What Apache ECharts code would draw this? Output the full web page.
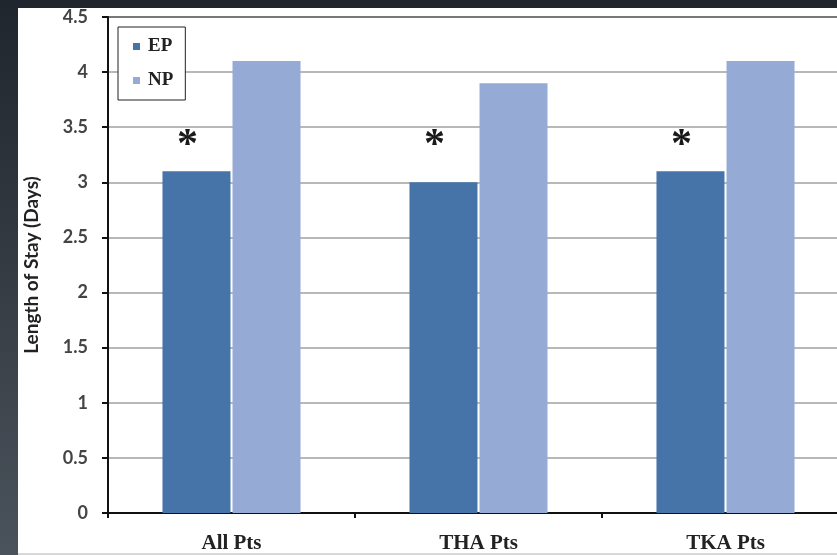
<!DOCTYPE html>
<html>
<head>
<meta charset="utf-8">
<script src="https://cdn.jsdelivr.net/npm/echarts@6/dist/echarts.min.js"></script>
<style>
html,body{margin:0;padding:0;background:#2a3038;overflow:hidden;width:837px;height:555px;}
#chart{width:850px;height:555px;}
</style>
</head>
<body>
<div id="chart"></div>
<script>
const categories = ['All Pts', 'THA Pts', 'TKA Pts'];
const seriesNames = ['EP', 'NP'];
const epValues = [3.1, 3.0, 3.1];
const npValues = [4.1, 3.9, 4.1];
const sigLevels = [3.42, 3.42, 3.42];
const yAxisTitle = 'Length of Stay (Days)';
const sigMark = '*';

const chart = echarts.init(document.getElementById('chart'));
const gridColors = ['#a0a0a0','#a0a0a0','#a0a0a0','#a0a0a0','#a0a0a0','#a0a0a0','#a0a0a0','#a0a0a0','#a0a0a0','#4a4a4a'];
chart.setOption({
  animation: false,
  backgroundColor: {
    type: 'linear', x: 0, y: 0, x2: 0, y2: 1,
    colorStops: [{offset: 0, color: '#1f262d'}, {offset: 1, color: '#4a525b'}]
  },
  graphic: [
    {type: 'rect', left: 18, top: 8, z: -10, shape: {width: 832, height: 545}, style: {fill: '#ffffff'}},
    {type: 'rect', left: 18, top: 553, z: -10, shape: {width: 832, height: 2}, style: {fill: '#d8d8d8'}}
  ],
  grid: {left: 108, top: 17, right: 1, bottom: 42, containLabel: false},
  legend: {
    data: seriesNames,
    orient: 'vertical',
    left: 118, top: 27,
    backgroundColor: '#ffffff',
    borderColor: '#222',
    borderWidth: 1,
    padding: [10, 12, 10, 15],
    itemWidth: 7, itemHeight: 7,
    itemGap: 15,
    icon: 'rect',
    textStyle: {fontFamily: 'Liberation Serif', fontWeight: 'bold', fontSize: 19, color: '#222', padding: [0,0,0,3]}
  },
  xAxis: {
    type: 'category',
    data: categories,
    axisLine: {lineStyle: {color: '#111', width: 2}},
    axisTick: {show: true, length: 5, lineStyle: {color: '#111', width: 2}},
    axisLabel: {fontFamily: 'Liberation Serif', fontWeight: 'bold', fontSize: 21, color: '#222', margin: 20}
  },
  yAxis: {
    type: 'value',
    min: 0, max: 4.5, interval: 0.5,
    name: yAxisTitle,
    nameLocation: 'middle',
    nameGap: 67,
    nameTextStyle: {fontFamily: 'Lato', fontWeight: 'bold', fontSize: 19, color: '#222'},
    axisLine: {show: true, lineStyle: {color: '#111', width: 2}},
    axisTick: {show: true, inside: false, length: 6, lineStyle: {color: '#111', width: 2}},
    axisLabel: {fontFamily: 'Lato', fontWeight: 'bold', fontSize: 18, color: '#444', margin: 20},
    splitLine: {show: true, lineStyle: {color: gridColors, width: 1.5}}
  },
  series: [
    {
      name: seriesNames[0], type: 'bar', data: epValues,
      barWidth: 68, barGap: '3%',
      itemStyle: {color: '#4674a8'}
    },
    {
      name: seriesNames[1], type: 'bar', data: npValues,
      barWidth: 68,
      itemStyle: {color: '#95aad5'}
    },
    {
      name: 'sig', type: 'scatter', data: sigLevels,
      symbolSize: 0, silent: true,
      itemStyle: {opacity: 1},
      label: {show: true, position: 'inside', formatter: sigMark, offset: [-44, 10],
        fontFamily: 'Liberation Serif', fontWeight: 'bold', fontSize: 42, color: '#1a1a1a'}
    }
  ]
});
</script>
</body>
</html>
